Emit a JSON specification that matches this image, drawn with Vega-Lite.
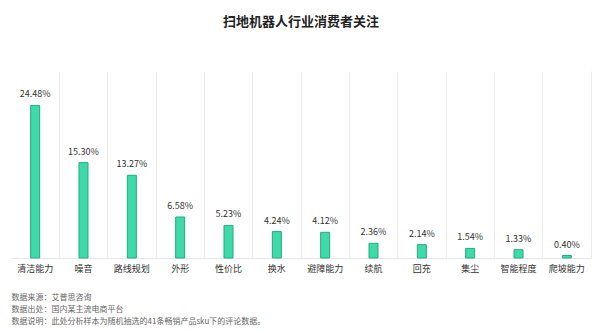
{
  "$schema": "https://vega.github.io/schema/vega-lite/v6.json",
  "width": 580,
  "height": 187,
  "autosize": {"type": "none"},
  "padding": {"left": 11, "top": 71, "right": 9, "bottom": 74},
  "background": "#ffffff",
  "title": {
    "text": "扫地机器人行业消费者关注",
    "fontSize": 13,
    "fontWeight": "bold",
    "font": "Noto Sans CJK SC",
    "color": "#222222",
    "anchor": "middle",
    "offset": 42
  },
  "data": {
    "values": [
      {"item": "清洁能力", "share": 0.2448},
      {"item": "噪音", "share": 0.1530},
      {"item": "路线规划", "share": 0.1327},
      {"item": "外形", "share": 0.0658},
      {"item": "性价比", "share": 0.0523},
      {"item": "换水", "share": 0.0424},
      {"item": "避障能力", "share": 0.0412},
      {"item": "续航", "share": 0.0236},
      {"item": "回充", "share": 0.0214},
      {"item": "集尘", "share": 0.0154},
      {"item": "智能程度", "share": 0.0133},
      {"item": "爬坡能力", "share": 0.0040}
    ]
  },
  "encoding": {
    "x": {
      "field": "item",
      "type": "nominal",
      "sort": null,
      "scale": {"paddingInner": 0, "paddingOuter": 0},
      "axis": {
        "title": ["数据来源：艾普思咨询", "数据出处：国内某主流电商平台", "数据说明：此处分析样本为随机抽选的41条畅销产品sku下的评论数据。"],
        "titleFont": "Noto Sans CJK SC",
        "titleFontSize": 8,
        "titleFontWeight": "normal",
        "titleColor": "#666666",
        "titleAnchor": "start",
        "titleAlign": "left",
        "titleLineHeight": 12,
        "titlePadding": 20,
        "labelAngle": 0,
        "labelFont": "Noto Sans CJK SC",
        "labelFontSize": 9,
        "labelColor": "#333333",
        "labelPadding": 6,
        "ticks": false,
        "domainColor": "#e6e6e6",
        "grid": true,
        "gridColor": "#ececec",
        "bandPosition": 1
      }
    },
    "y": {
      "field": "share",
      "type": "quantitative",
      "scale": {"domain": [0, 0.3]},
      "axis": null
    }
  },
  "layer": [
    {
      "mark": {"type": "bar", "width": 9, "color": "#40d9a9", "stroke": "#1fae80", "strokeWidth": 1}
    },
    {
      "mark": {"type": "text", "baseline": "bottom", "dy": -6, "font": "Noto Sans CJK SC", "fontSize": 9, "color": "#333333"},
      "encoding": {
        "text": {"field": "share", "type": "quantitative", "format": ".2%"}
      }
    }
  ],
  "config": {
    "view": {"stroke": null}
  }
}
